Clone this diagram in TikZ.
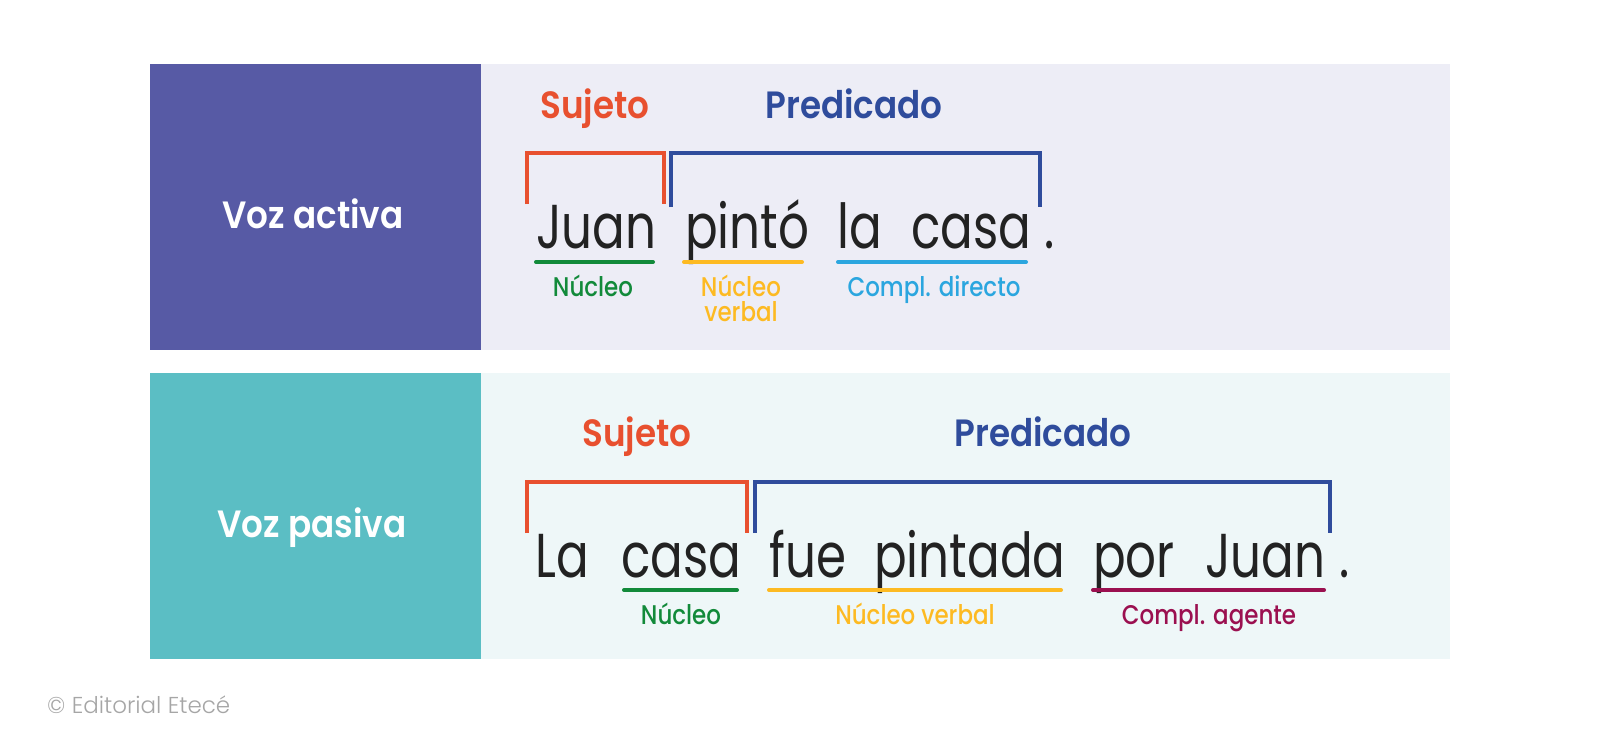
\documentclass[tikz,border=0pt]{standalone}
\usepackage{fontspec}
\setmainfont{Poppins}
\newfontfamily\sentfont{Poppins}[FakeStretch=0.78]
\newfontfamily\headfont{Poppins SemiBold}[FakeStretch=0.9]
\newfontfamily\labfont{Poppins Medium}[FakeStretch=0.85]
\newfontfamily\copyfont{Poppins Light}
\definecolor{boxA}{HTML}{575AA5}
\definecolor{panA}{HTML}{EDEDF6}
\definecolor{boxB}{HTML}{5BBEC4}
\definecolor{panB}{HTML}{EEF7F8}
\definecolor{cred}{HTML}{E8502F}
\definecolor{cblue}{HTML}{2F4C9C}
\definecolor{cgreen}{HTML}{128A3A}
\definecolor{cyellow}{HTML}{FDBA22}
\definecolor{clblue}{HTML}{2BA6DF}
\definecolor{cmag}{HTML}{9B1050}
\definecolor{ctext}{HTML}{222222}
\tikzset{
  word/.style={anchor=base west,inner sep=0pt,text=ctext,font=\sentfont\fontsize{62}{62}\selectfont},
  head/.style={anchor=base,inner sep=0pt,font=\headfont\fontsize{38}{38}\selectfont},
  voz/.style={anchor=base,inner sep=0pt,text=white,font=\headfont\fontsize{38}{38}\selectfont},
  lab/.style={anchor=base,inner sep=0pt,align=center,font=\labfont\fontsize{27}{25}\selectfont},
  brk/.style={line width=3.4pt},
  uline/.style={line width=4pt,line cap=round}
}
\begin{document}
\begin{tikzpicture}[x=1pt,y=-1pt]
\useasboundingbox (0,0) rectangle (1600,744);
\fill[white] (0,0) rectangle (1600,744);
% panels
\fill[boxA] (150,64) rectangle (481,350);
\fill[panA] (481,64) rectangle (1450,350);
\fill[boxB] (150,373) rectangle (481,659);
\fill[panB] (481,373) rectangle (1450,659);
\node[voz] (va) at (313,228) {Voz activa};
\node[voz] (vp) at (312,537) {Voz pasiva};
% ---- top sentence
\node[head,text=cred] (s1) at (595,118) {Sujeto};
\node[head,text=cblue] (p1) at (854,118) {Predicado};
\draw[brk,cred] (527,204) -- (527,153) -- (664,153) -- (664,204);
\draw[brk,cblue] (671,207) -- (671,153) -- (1040,153) -- (1040,207);
\node[word] (w1) at (536,248) {Juan};
\node[word] (w2) at (685,248) {pintó};
\node[word] (w3) at (837,248) {la};
\node[word] (w4) at (911,248) {casa};
\node[word] (w5) at (1044,248) {.};
\draw[uline,cgreen] (536,262) -- (653,262);
\draw[uline,cyellow] (684,262) -- (802,262);
\draw[uline,clblue] (838,262) -- (1026,262);
\node[lab,text=cgreen] (l1) at (593,296) {Núcleo};
\node[lab,text=cyellow,anchor=north] (l2) at (741,275) {Núcleo\\verbal};
\node[lab,text=clblue] (l3) at (934,296) {Compl. directo};
% ---- bottom sentence
\node[head,text=cred] (s2) at (637,446) {Sujeto};
\node[head,text=cblue] (p2) at (1043,446) {Predicado};
\draw[brk,cred] (527,533) -- (527,482) -- (747,482) -- (747,533);
\draw[brk,cblue] (755,533) -- (755,482) -- (1330,482) -- (1330,533);
\node[word] (x1) at (535,577) {La};
\node[word] (x2) at (621,577) {casa};
\node[word] (x3) at (769,577) {fue};
\node[word] (x4) at (874,577) {pintada};
\node[word] (x5) at (1093,577) {por};
\node[word] (x6) at (1205,577) {Juan};
\node[word] (x7) at (1339,577) {.};
\draw[uline,cgreen] (624,590) -- (737,590);
\draw[uline,cyellow] (769,590) -- (1061,590);
\draw[uline,cmag] (1093,590) -- (1324,590);
\node[lab,text=cgreen] (m1) at (681,624) {Núcleo};
\node[lab,text=cyellow] (m2) at (915,624) {Núcleo verbal};
\node[lab,text=cmag] (m3) at (1209,624) {Compl. agente};
% copyright
\node[anchor=base west,inner sep=0pt,text=black!35,font=\copyfont\fontsize{23}{23}\selectfont] (cp) at (47,713) {© Editorial Etecé};
\end{tikzpicture}
\end{document}
